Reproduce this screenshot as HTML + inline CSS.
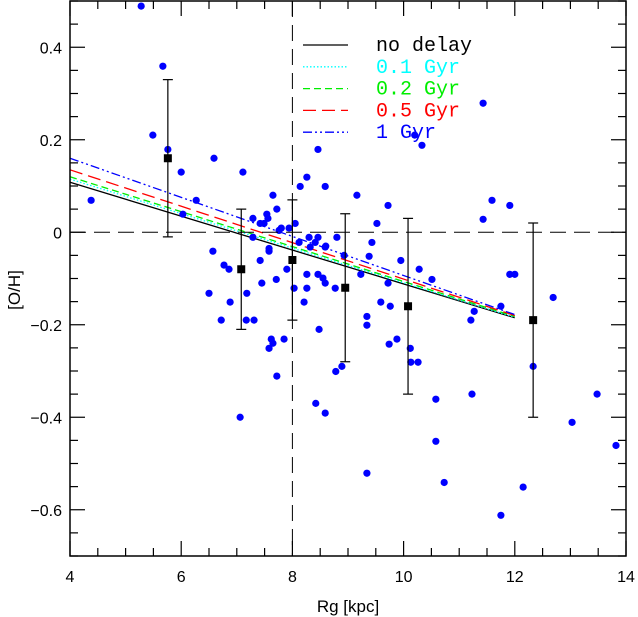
<!DOCTYPE html>
<html><head><meta charset="utf-8"><style>
html,body{margin:0;padding:0;background:#fff;}
svg{display:block;font-family:"Liberation Sans",sans-serif;}
</style></head><body>
<svg id="chart" width="638" height="617" viewBox="0 0 638 617" xmlns="http://www.w3.org/2000/svg">
<g id="lines"></g><g id="pts"></g><g id="bins"></g><g id="axes"></g><g id="legend"></g>
</svg>
<script>
const xTicks=[4,6,8,10,12,14];
const yTicks=[0.4,0.2,0,-0.2,-0.4,-0.6];
const obsX=[5.28,5.67,5.49,5.76,6.00,4.38,6.27,6.59,6.03,7.11,7.65,7.72,7.29,7.42,7.49,7.54,7.56,7.76,7.80,7.94,8.05,8.14,8.26,8.46,8.59,7.29,8.12,8.30,8.46,8.41,8.32,8.59,8.80,8.93,6.57,7.58,7.58,7.42,6.77,6.86,7.90,8.26,8.46,8.55,8.59,7.71,7.45,6.50,7.18,8.03,8.26,8.77,6.88,8.21,6.72,7.17,7.31,8.48,7.62,7.65,7.58,7.85,7.72,8.78,8.89,8.42,8.59,7.06,
11.43,10.20,10.33,9.16,9.72,11.59,11.91,11.43,9.52,9.43,8.60,9.38,9.95,10.28,10.51,9.23,11.91,12.00,9.72,12.69,9.59,9.76,11.75,11.27,11.21,9.34,9.34,9.88,9.74,10.12,10.13,10.26,12.33,11.23,10.58,13.48,13.03,10.58,13.82,9.34,10.73,12.15,11.75];
const obsY=[0.489,0.359,0.210,0.179,0.130,0.069,0.069,0.160,0.039,0.130,0.080,0.050,0.030,0.019,0.019,0.039,0.030,0.004,0.009,0.009,0.019,0.099,0.119,0.179,0.099,-0.011,-0.022,-0.011,-0.011,-0.022,-0.032,-0.032,-0.011,-0.050,-0.041,-0.035,-0.041,-0.061,-0.071,-0.080,-0.080,-0.091,-0.091,-0.099,-0.110,-0.102,-0.110,-0.132,-0.132,-0.121,-0.121,-0.121,-0.151,-0.151,-0.190,-0.190,-0.190,-0.210,-0.231,-0.240,-0.251,-0.231,-0.311,-0.301,-0.290,-0.370,-0.391,-0.400,
0.279,0.210,0.188,0.080,0.058,0.069,0.058,0.028,0.019,-0.022,-0.030,-0.052,-0.061,-0.080,-0.102,-0.091,-0.091,-0.091,-0.110,-0.141,-0.151,-0.160,-0.160,-0.171,-0.190,-0.182,-0.201,-0.231,-0.242,-0.251,-0.281,-0.281,-0.290,-0.350,-0.361,-0.350,-0.411,-0.452,-0.461,-0.521,-0.541,-0.551,-0.612];
const binX=[5.76,7.08,8.0,8.95,10.08,12.33];
const binY=[0.16,-0.08,-0.06,-0.12,-0.16,-0.19];
const binErr=[0.17,0.13,0.13,0.16,0.19,0.21];
const modelX=[4,12];
const modelNames=["no delay","0.1 Gyr","0.2 Gyr","0.5 Gyr","1 Gyr"];
const modelStart=[0.108,0.115,0.12,0.135,0.16];
const modelEnd=[-0.185,-0.184,-0.182,-0.18,-0.178];

const X0=70,X1=626,Y0=1,Y1=556;
const sx=v=>X0+(v-4)/10*(X1-X0);
const sy=v=>Y1-(v+0.7)/1.2*(Y1-Y0);
const NS="http://www.w3.org/2000/svg";
function mk(t,a,p){const e=document.createElementNS(NS,t);for(const k in a)e.setAttribute(k,a[k]);p.appendChild(e);return e;}
const colors=["#000","#00ffff","#00ee00","#ff0000","#0000ff"];
const dashes=["none","1.5 2","7 4","13 6","9 3 2 3 2 3"];
const gl=document.getElementById('lines');
for(let i=0;i<modelNames.length;i++){
 const l=mk('line',{x1:sx(modelX[0]),y1:sy(modelStart[i]),x2:sx(modelX[1]),y2:sy(modelEnd[i]),stroke:colors[i],'stroke-width':1.3,'stroke-dasharray':dashes[i]},gl);
 
 
}
const gp=document.getElementById('pts');
for(let i=0;i<obsX.length;i++){
 const c=mk('circle',{cx:sx(obsX[i]),cy:sy(obsY[i]),r:3.6,fill:'#0000ff'},gp);
 
 
}
const gb=document.getElementById('bins');
for(let i=0;i<binX.length;i++){
 const x=sx(binX[i]);
 const g=mk('g',{stroke:'#000','stroke-width':1.2},gb);
 
 
 mk('line',{x1:x,x2:x,y1:sy(binY[i]+binErr[i]),y2:sy(binY[i]-binErr[i])},g);
 mk('line',{x1:x-5,x2:x+5,y1:sy(binY[i]+binErr[i]),y2:sy(binY[i]+binErr[i])},g);
 mk('line',{x1:x-5,x2:x+5,y1:sy(binY[i]-binErr[i]),y2:sy(binY[i]-binErr[i])},g);
 mk('rect',{x:x-4,y:sy(binY[i])-4,width:8,height:8,fill:'#000',stroke:'none'},g);
}
const ga=document.getElementById('axes');
const ref1=mk('line',{x1:X0,x2:X1,y1:sy(0),y2:sy(0),stroke:'#000','stroke-width':1,'stroke-dasharray':'16 8'},ga);

const ref2=mk('line',{x1:sx(8),x2:sx(8),y1:Y0,y2:Y1,stroke:'#000','stroke-width':1,'stroke-dasharray':'16 8'},ga);

const fr=mk('rect',{x:X0,y:Y0,width:X1-X0,height:Y1-Y0,fill:'none',stroke:'#000','stroke-width':1.5},ga);

for(let v=4;v<=14.001;v+=0.5){
 const maj=Math.abs(v-Math.round(v/2)*2)<1e-6, L=maj?15:8, x=sx(v);
 mk('line',{x1:x,x2:x,y1:Y1,y2:Y1-L,stroke:'#000','stroke-width':1.2},ga);
 mk('line',{x1:x,x2:x,y1:Y0,y2:Y0+L,stroke:'#000','stroke-width':1.2},ga);
}
for(let k=-14;k<=10;k++){
 const v=k*0.05, maj=(k%4===0), L=maj?15:8, y=sy(v);
 mk('line',{x1:X0,x2:X0+L,y1:y,y2:y,stroke:'#000','stroke-width':1.2},ga);
 mk('line',{x1:X1,x2:X1-L,y1:y,y2:y,stroke:'#000','stroke-width':1.2},ga);
}
xTicks.forEach(v=>{const t=mk('text',{x:sx(v),y:582,'text-anchor':'middle','font-size':16},ga);t.textContent=v;
 });
yTicks.forEach(v=>{const t=mk('text',{x:62,y:sy(v)+6,'text-anchor':'end','font-size':16},ga);t.textContent=(v<0?'\u2212'+(-v):String(v));
 });
const xt=mk('text',{x:348,y:612,'text-anchor':'middle','font-size':17},ga);xt.textContent='Rg [kpc]';

const yt=mk('text',{x:20,y:290,'text-anchor':'middle','font-size':17,transform:'rotate(-90 20 290)'},ga);yt.textContent='[O/H]';

const lg=document.getElementById('legend');

for(let i=0;i<modelNames.length;i++){
 const y=45+i*21.8;
 const l=mk('line',{x1:303,x2:348,y1:y,y2:y,stroke:colors[i],'stroke-width':1.3,'stroke-dasharray':dashes[i]},lg);
 
 const t=mk('text',{x:376,y:y+6,'font-size':20,fill:colors[i],'font-family':'"Liberation Mono",monospace'},lg);
 t.textContent=modelNames[i];
 
}
</script>
</body></html>
